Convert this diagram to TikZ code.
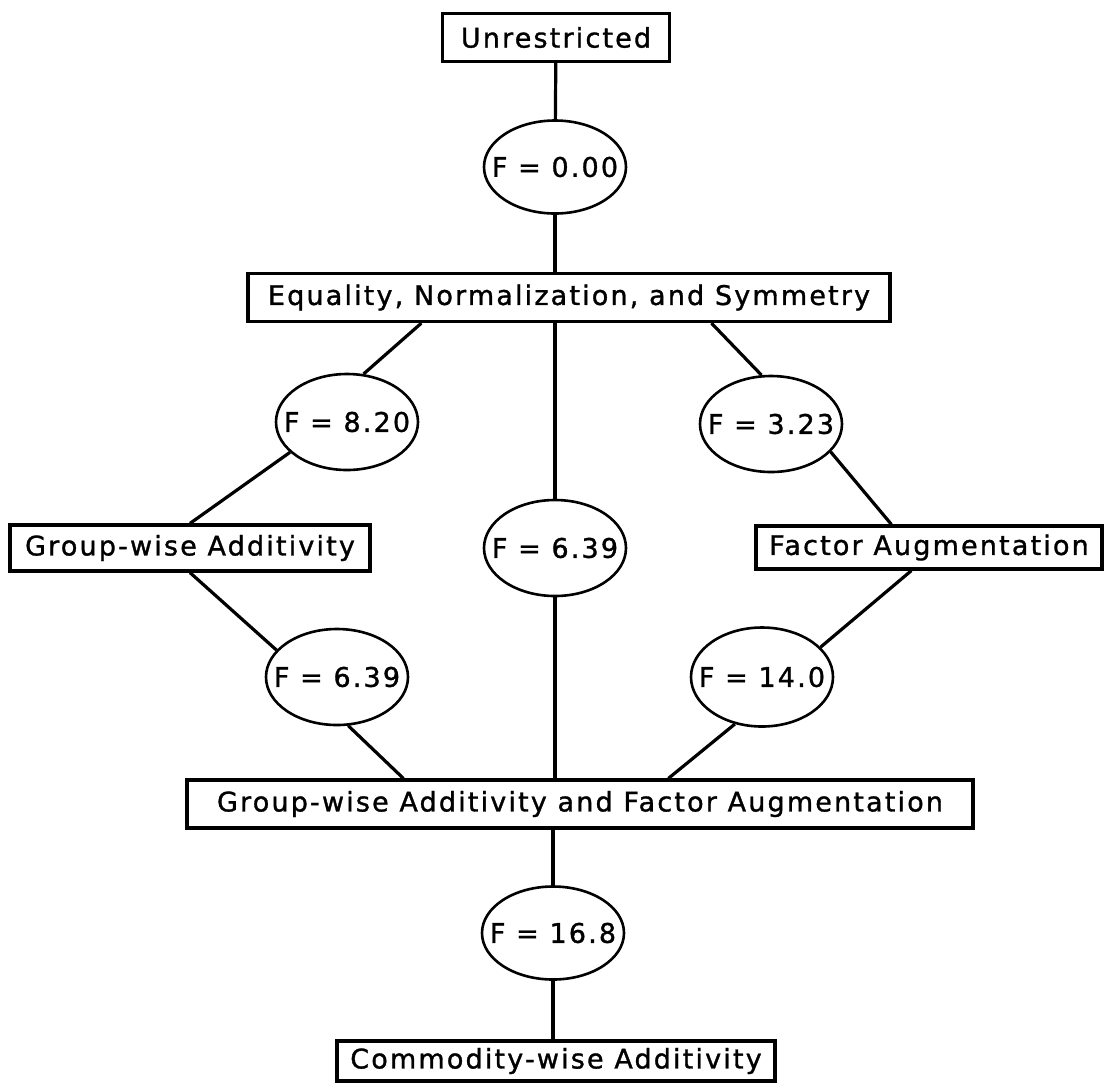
\documentclass[tikz,border=0pt]{standalone}
\usepackage{fontspec}
\setmainfont{DejaVu Sans}[LetterSpace=8,FakeBold=1.2]
\usetikzlibrary{shapes.geometric}

\begin{document}
\begin{tikzpicture}[
  x=0.5pt,y=-0.5pt,
  constr/.style={draw,line width=1.6pt,inner sep=0pt,minimum height=24pt},
  ftest/.style={draw,ellipse,line width=1.3pt,inner xsep=-10pt,inner ysep=0pt,
    minimum width=71pt,minimum height=48pt},
  link/.style={line width=1.6pt},
  every node/.append style={font=\fontsize{13.5}{15}\selectfont}
]
  \useasboundingbox (0,0) rectangle (1104,1083);

  % restrictions
  \node[constr,minimum width=113.5pt] (unrestricted) at (556,37.5) {Unrestricted};
  \node[constr,minimum width=321pt] (ens) at (569,297.5) {Equality, Normalization, and Symmetry};
  \node[constr,minimum width=180pt,minimum height=23pt] (groupadd) at (190,548) {Group-wise Additivity};
  \node[constr,minimum width=173pt,minimum height=21.5pt] (factoraug) at (929,547.5) {Factor Augmentation};
  \node[constr,minimum width=393pt] (both) at (580,804) {Group-wise Additivity and Factor Augmentation};
  \node[constr,minimum width=219pt,minimum height=20pt] (commodity) at (556,1061) {Commodity-wise Additivity};

  % F statistics
  \node[ftest,minimum height=46.5pt] (test0) at (555,167) {F = 0.00};
  \node[ftest] (test1) at (347,422) {F = 8.20};
  \node[ftest] (test2) at (555,548) {F = 6.39};
  \node[ftest] (test3) at (771,424) {F = 3.23};
  \node[ftest] (test4) at (337,677) {F = 6.39};
  \node[ftest,minimum height=49.5pt] (test5) at (762,677) {F = 14.0};
  \node[ftest,minimum height=46.5pt] (test6) at (553,933) {F = 16.8};

  \draw[link] (unrestricted) -- (test0);
  \draw[link] (test0) -- (test0 |- ens.north);
  \draw[link] ([xshift=87.5pt]ens.south west) -- (test1.71);
  \draw[link] (test1.208) -- (groupadd.north);
  \draw[link] (groupadd.south) -- (test4.156);
  \draw[link] (test4.283) -- ([xshift=109pt]both.north west);
  \draw[link] ([xshift=232.5pt]ens.south west) -- (test3.101);
  \draw[link] (test3.335) -- ([xshift=68.5pt]factoraug.north west);
  \draw[link] ([xshift=78.5pt]factoraug.south west) -- (test5.27);
  \draw[link] (test5.240) -- ([xshift=241.5pt]both.north west);
  \draw[link] (test2 |- ens.south) -- (test2);
  \draw[link] (test2) -- (test2 |- both.north);
  \draw[link] (test6 |- both.south) -- (test6);
  \draw[link] (test6) -- (test6 |- commodity.north);
\end{tikzpicture}
\end{document}
